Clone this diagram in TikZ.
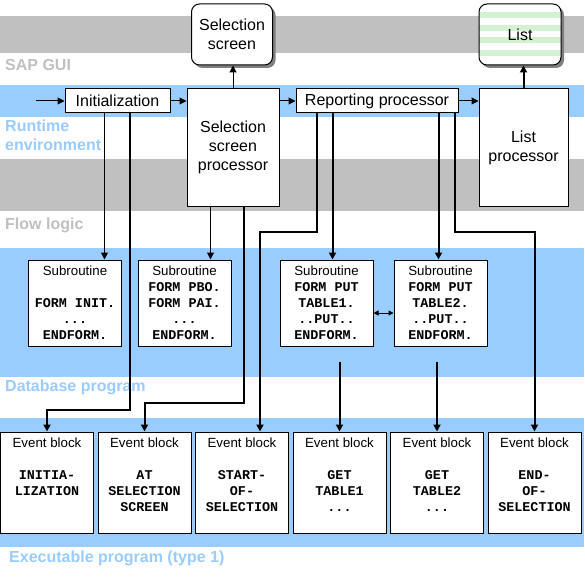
\documentclass[tikz,border=0pt]{standalone}
\usepackage{fontspec}
\setmainfont{Liberation Sans}
\newfontfamily\monofont{Liberation Mono}
\usepackage{tikz}
\usetikzlibrary{arrows.meta,shapes,positioning,shadows,calc}
\usepackage{xcolor}
\definecolor{sapgray}{RGB}{192,192,192}
\definecolor{sapblue}{RGB}{153,204,255}
\definecolor{sapshadow}{RGB}{128,128,128}
\definecolor{sapstripe}{RGB}{210,242,210}
\newcommand{\boxfont}{\fontsize{16}{19}\selectfont}
\newcommand{\titlefont}{\normalfont\fontsize{13.3}{16}\selectfont}
\newcommand{\codefont}{\monofont\bfseries\fontsize{13.4}{16}\selectfont}
\newcommand{\bandfont}{\bfseries\fontsize{16}{19}\selectfont}
\tikzstyle{procbox} = [rectangle, draw, fill=white, line width=1pt, inner sep=0pt, align=center, font=\boxfont]
\tikzstyle{screenbox} = [rectangle, rounded corners=8pt, draw, fill=white, line width=1pt, minimum width=81pt, minimum height=61pt, inner sep=0pt, align=center, font=\boxfont, drop shadow={shadow xshift=3pt, shadow yshift=-3pt, fill=sapshadow, opacity=1}]
\tikzstyle{subbox} = [rectangle, draw, fill=white, line width=1pt, minimum width=93pt, minimum height=86pt, inner sep=0pt, align=center, font=\codefont]
\tikzstyle{eventbox} = [subbox, minimum height=101pt]
\tikzstyle{bandlabel} = [anchor=base west, inner sep=0pt, align=left, font=\bandfont]
\tikzstyle{arrow} = [line width=1pt, -{Triangle[length=7pt,width=7pt]}]
\tikzstyle{thickarrow} = [line width=2pt, -{Triangle[length=7pt,width=7pt]}]
\tikzstyle{swaparrow} = [line width=1pt, {Triangle[length=5pt,width=5pt]}-{Triangle[length=5pt,width=5pt]}]

\begin{document}
\begin{tikzpicture}[x=1pt, y=-1pt]
\useasboundingbox (0,0) rectangle (584,588);
% Layers
\fill[sapgray] (0,16) rectangle (584,53);
\fill[sapblue] (0,85) rectangle (584,117);
\fill[sapgray] (0,159) rectangle (584,211);
\fill[sapblue] (0,248) rectangle (584,377);
\fill[sapblue] (0,418) rectangle (584,547);
\node[bandlabel, text=sapgray] (gui) at (5,71) {SAP GUI};
\node[bandlabel, text=sapblue] (runtime) at (5,151) {Runtime\\environment};
\node[bandlabel, text=sapgray] (flow) at (5,229) {Flow logic};
\node[bandlabel, text=sapblue] (dbprog) at (5,391.5) {Database program};
\node[bandlabel, text=sapblue] (exeprog) at (9,562) {Executable program (type 1)};

% Screens
\node[screenbox] (selscreen) at (232,34.5) {Selection\\screen};
\node[screenbox, minimum width=82pt, path picture={
  \foreach \k in {8,21,33,46}
    \fill[sapstripe, sharp corners] ($(path picture bounding box.north west)+(0,\k)$) rectangle ++(82,6);
}] (list) at (520,34.5) {List};

% Runtime environment
\coordinate (entry) at (36,101);
\node[procbox, minimum width=105pt, minimum height=24pt] (init) at (117.5,101) {Initialization};
\node[procbox, minimum width=92pt, minimum height=117pt] (selproc) at (233,147.5) {Selection\\screen\\processor};
\node[procbox, minimum width=162pt, minimum height=24pt] (report) at (377,101) {Reporting processor};
\node[procbox, minimum width=89pt, minimum height=117pt] (listproc) at (523.5,147.5) {List\\processor};

% Database program
\node[subbox] (subinit) at (75,303) {{\titlefont Subroutine}\\ \mbox{}\\ FORM INIT.\\ ...\\ ENDFORM.};
\node[subbox] (subsel) at (184.5,303) {{\titlefont Subroutine}\\ FORM PBO.\\ FORM PAI.\\ ...\\ ENDFORM.};
\node[subbox] (subput1) at (326.5,303) {{\titlefont Subroutine}\\ FORM PUT\\ TABLE1.\\ ..PUT..\\ ENDFORM.};
\node[subbox] (subput2) at (440.5,303) {{\titlefont Subroutine}\\ FORM PUT\\ TABLE2.\\ ..PUT..\\ ENDFORM.};

% Executable program
\node[eventbox] (evinit) at (47,482.5) {{\titlefont Event block}\\ \mbox{}\\ INITIA-\\ LIZATION\\ \mbox{}\\ \mbox{}};
\node[eventbox, right=3.5pt of evinit] (evsel) {{\titlefont Event block}\\ \mbox{}\\ AT\\ SELECTION\\ SCREEN\\ \mbox{}};
\node[eventbox, right=3.5pt of evsel] (evstart) {{\titlefont Event block}\\ \mbox{}\\ START-\\ OF-\\ SELECTION\\ \mbox{}};
\node[eventbox, right=3.5pt of evstart] (evget1) {{\titlefont Event block}\\ \mbox{}\\ GET\\ TABLE1\\ ...\\ \mbox{}};
\node[eventbox, right=3.5pt of evget1] (evget2) {{\titlefont Event block}\\ \mbox{}\\ GET\\ TABLE2\\ ...\\ \mbox{}};
\node[eventbox, right=3.5pt of evget2] (evend) {{\titlefont Event block}\\ \mbox{}\\ END-\\ OF-\\ SELECTION\\ \mbox{}};

% Control flow
\draw[arrow] (entry) -- (init);
\draw[arrow] (init.east) -- (init.east -| selproc.west);
\draw[arrow] (report.west -| selproc.east) -- (report.west);
\draw[arrow] (report.east) -- (report.east -| listproc.west);
\draw[arrow] (selproc.north) -- (selproc.north |- selscreen.south);
\draw[thickarrow] (listproc.north) -- (listproc.north |- list.south);

% Calls
\draw[arrow] ([xshift=40pt]init.south west) coordinate (i1) -- (i1 |- subinit.north);
\draw[thickarrow] ([xshift=65pt]init.south west) -- ++(0,296) -| (evinit.north);
\draw[arrow] ([xshift=24pt]selproc.south west) coordinate (p1) -- (p1 |- subsel.north);
\draw[thickarrow] ([xshift=57pt]selproc.south west) -- ++(0,196) -| (evsel.north);
\draw[thickarrow] ([xshift=21pt]report.south west) -- ++(0,118) -| ([xshift=65pt]evstart.north west);
\draw[thickarrow] ([xshift=37pt]report.south west) coordinate (r2) -- (r2 |- subput1.north);
\draw[thickarrow] ([xshift=143pt]report.south west) coordinate (r3) -- (r3 |- subput2.north);
\draw[thickarrow] ([xshift=159pt]report.south west) -- ++(0,118) -| (evend.north);
\draw[thickarrow] (subput1.south -| evget1.north) ++(0,15) -- (evget1.north);
\draw[thickarrow] (subput2.south -| evget2.north) ++(0,15) -- (evget2.north);
\draw[swaparrow] ([yshift=-10pt]subput1.east) -- ([yshift=-10pt]subput2.west);
\end{tikzpicture}
\end{document}
